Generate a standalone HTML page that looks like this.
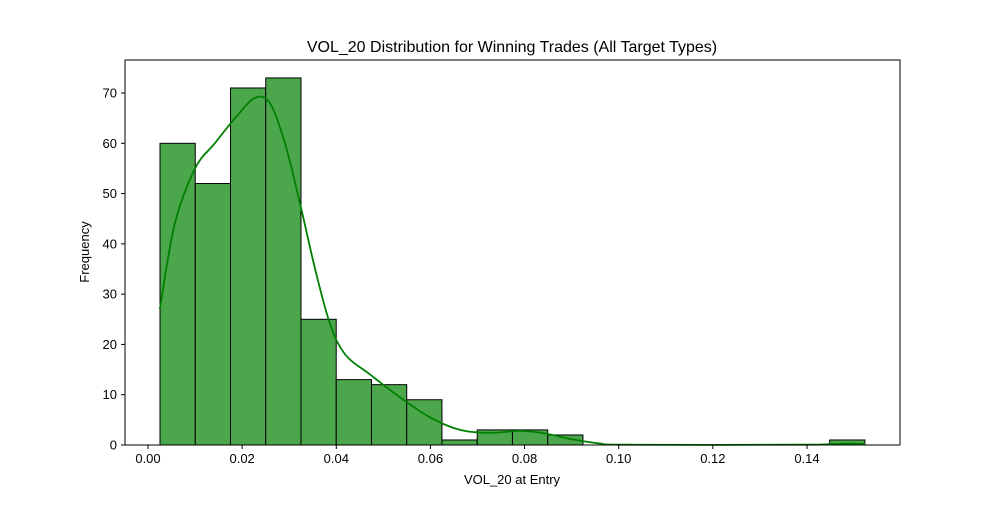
<!DOCTYPE html>
<html><head><meta charset="utf-8"><style>
body{margin:0;background:#fff;}
svg text{font-family:"Liberation Sans","DejaVu Sans",sans-serif;fill:#000;}
</style></head><body>
<svg id="chart" width="1000" height="500" viewBox="0 0 1000 500" xmlns="http://www.w3.org/2000/svg">
<rect width="1000" height="500" fill="#fff"/>
<g id="plot"></g>
</svg>
<script>
const binEdgeMin = 0.00255;
const binEdgeMax = 0.1523;
const counts = [60,52,71,73,25,13,12,9,1,3,3,2,0,0,0,0,0,0,0,1];
const kdeX = [0.0025,0.0057,0.010,0.0142,0.0185,0.0227,0.0259,0.0291,0.0323,0.0355,0.0387,0.0419,0.0472,0.0535,0.0599,0.0663,0.0727,0.079,0.0843,0.0897,0.096,0.102,0.1385,0.145,0.149,0.1523];
const kdeY = [27,44,55,60,65,69,68,60,48,35,24,18,14,9.5,5.5,3,2.4,2.8,2.3,1.2,0.3,0.05,0.05,0.2,0.3,0.2];
const xTicks = [0,0.02,0.04,0.06,0.08,0.10,0.12,0.14];
const xTickLabels = ["0.00","0.02","0.04","0.06","0.08","0.10","0.12","0.14"];
const yTicks = [0,10,20,30,40,50,60,70];

const L=125,R=900,T=60,B=445;
const xS=v=>148+(v-0)*(807-148)/0.14;
const yS=v=>B-v*(B-93)/70;
const NS="http://www.w3.org/2000/svg";
const g=document.getElementById('plot');
function mk(tag,attrs,parent){const e=document.createElementNS(NS,tag);for(const k in attrs)e.setAttribute(k,attrs[k]);(parent||g).appendChild(e);return e;}

const bw=(binEdgeMax-binEdgeMin)/counts.length;
counts.forEach((c,i)=>{
  const x0=xS(binEdgeMin+i*bw),x1=xS(binEdgeMin+(i+1)*bw);
  const r=mk('rect',{x:x0,y:yS(c),width:x1-x0,height:yS(0)-yS(c),fill:'#4ca64c',stroke:'#000','stroke-width':1});
  
  
});
const pts=kdeX.map((x,i)=>[xS(x),yS(kdeY[i])]);
let d='M'+pts[0][0].toFixed(1)+','+pts[0][1].toFixed(1);
for(let i=0;i<pts.length-1;i++){
  const p0=pts[Math.max(0,i-1)],p1=pts[i],p2=pts[i+1],p3=pts[Math.min(pts.length-1,i+2)];
  const c1=[p1[0]+(p2[0]-p0[0])/6,p1[1]+(p2[1]-p0[1])/6];
  const c2=[p2[0]-(p3[0]-p1[0])/6,p2[1]-(p3[1]-p1[1])/6];
  d+='C'+c1[0].toFixed(1)+','+c1[1].toFixed(1)+' '+c2[0].toFixed(1)+','+c2[1].toFixed(1)+' '+p2[0].toFixed(1)+','+p2[1].toFixed(1);
}
const p=mk('path',{d:d,fill:'none',stroke:'#008000','stroke-width':1.8});



const fr=mk('rect',{x:L,y:T,width:R-L,height:B-T,fill:'none',stroke:'#000','stroke-width':1});



xTicks.forEach((v,i)=>{
  const x=xS(v);
  mk('line',{x1:x,x2:x,y1:B,y2:B+4,stroke:'#000'});
  const t=mk('text',{x:x,y:B+18,'text-anchor':'middle','font-size':13});
  t.textContent=xTickLabels[i];
  
  
});
yTicks.forEach(v=>{
  const y=yS(v);
  mk('line',{x1:L-4,x2:L,y1:y,y2:y,stroke:'#000'});
  const t=mk('text',{x:L-8,y:y+4.5,'text-anchor':'end','font-size':13});
  t.textContent=v;
  
  
});
const title=mk('text',{x:512,y:52,'text-anchor':'middle','font-size':16});
title.textContent='VOL_20 Distribution for Winning Trades (All Target Types)';


const xl=mk('text',{x:512,y:484,'text-anchor':'middle','font-size':13});
xl.textContent='VOL_20 at Entry';


const yl=mk('text',{x:89,y:252,'text-anchor':'middle','font-size':13,transform:'rotate(-90 89 252)'});
yl.textContent='Frequency';


</script>
</body></html>
